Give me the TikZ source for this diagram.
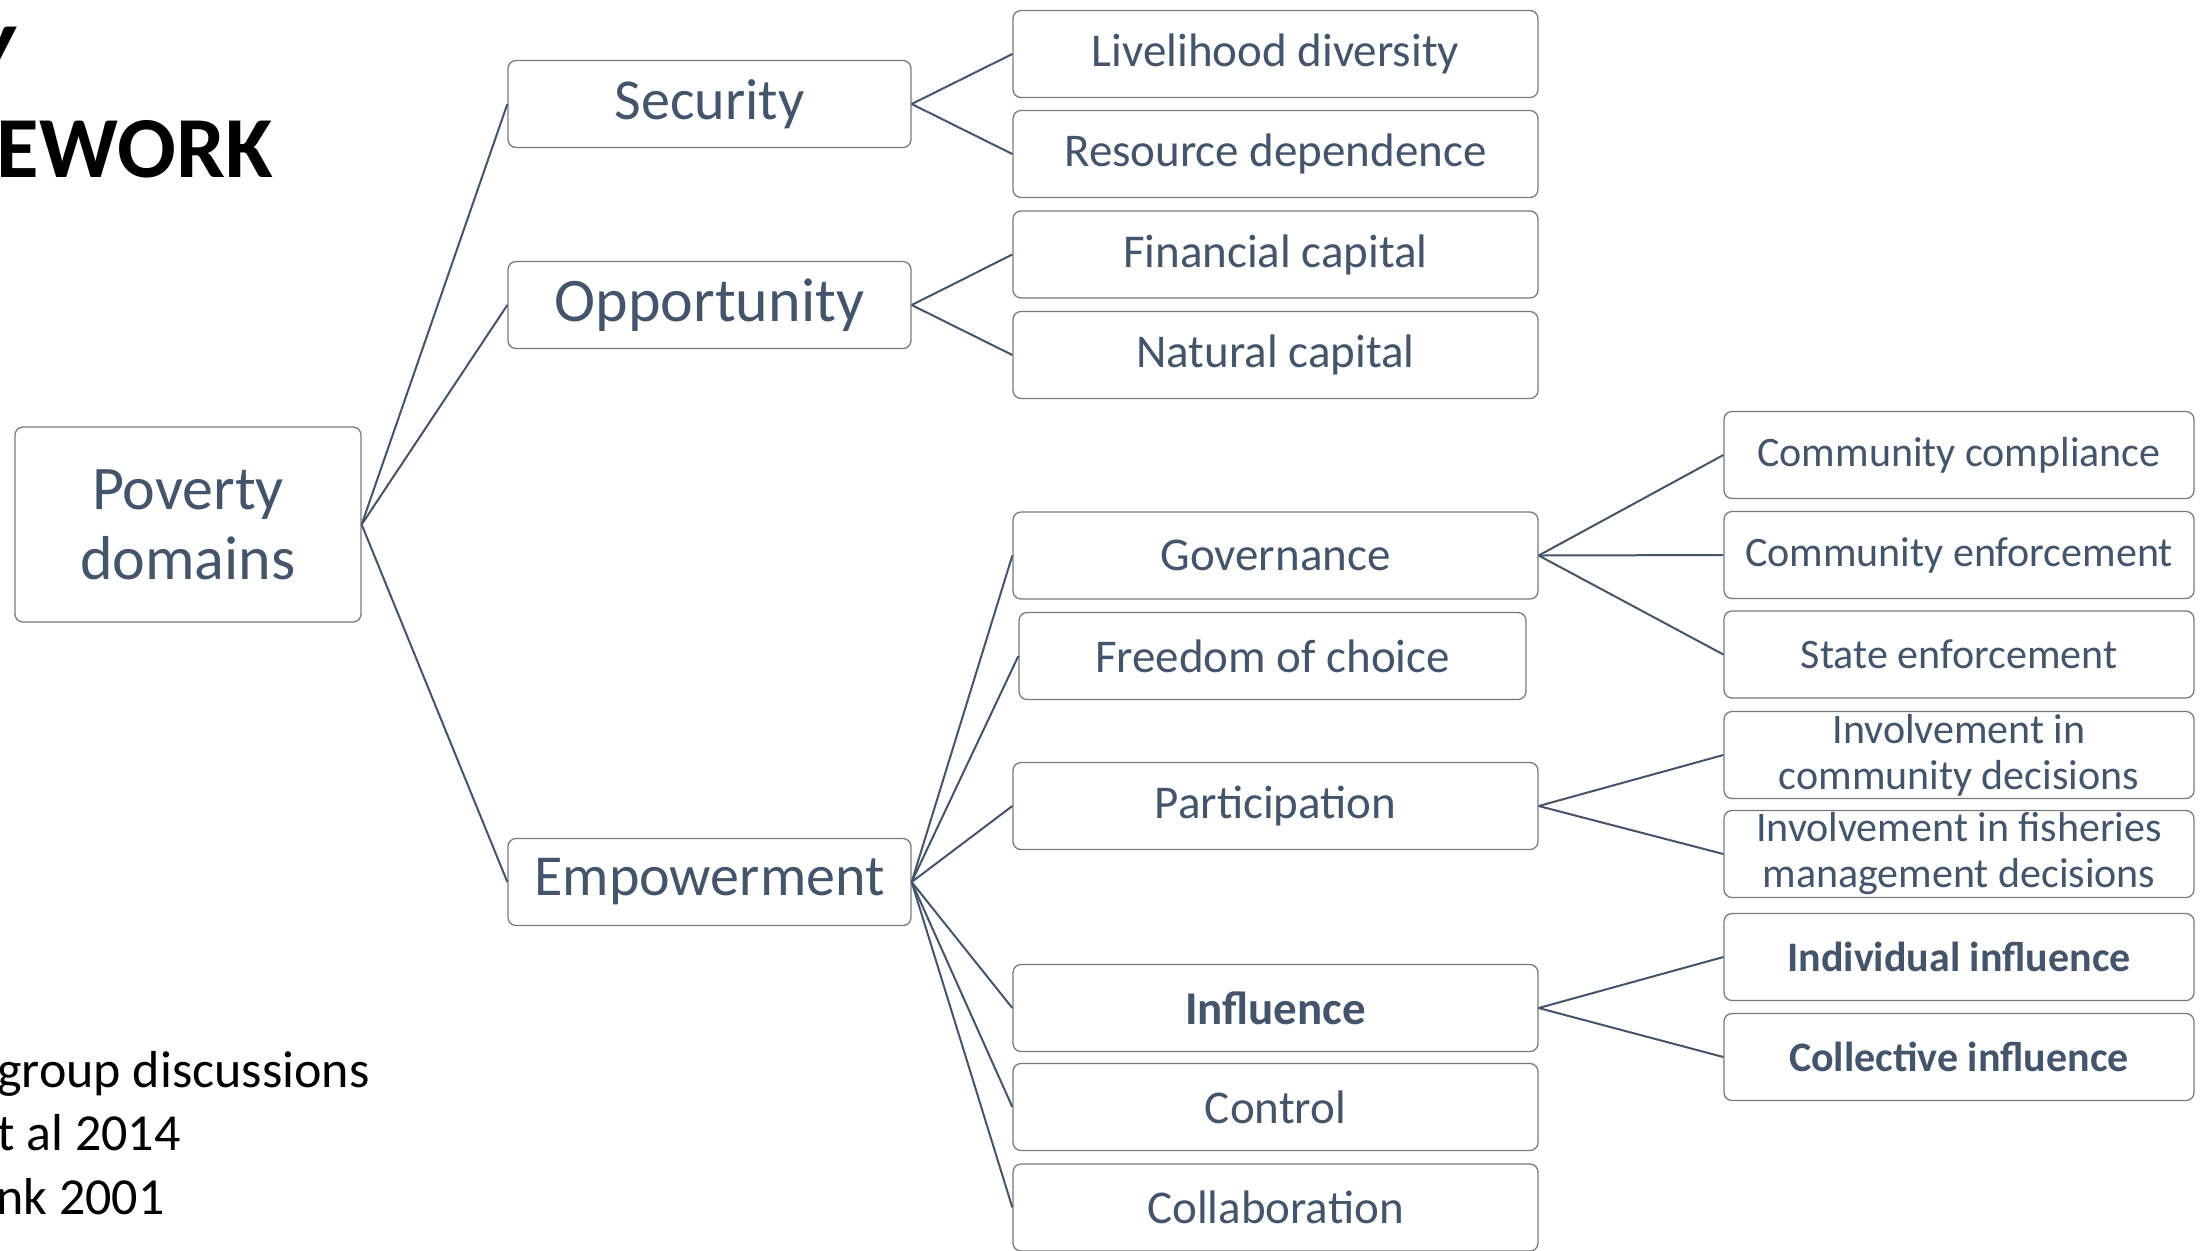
\documentclass[tikz,border=0pt]{standalone}
\usepackage{fontspec}
\setmainfont{Carlito}
\definecolor{slate}{HTML}{44546A}
\definecolor{boxedge}{HTML}{7A7A7A}
\newcommand{\fs}[2]{\fontsize{#1}{#2}\selectfont}
\begin{document}
\begin{tikzpicture}[x=0.5pt,y=-0.5pt,
  basebox/.style={draw=boxedge, line width=0.65pt, fill=white, rounded corners=4pt,
    inner sep=0pt, align=center, text=slate},
  rootbox/.style={basebox, minimum width=173pt, minimum height=97.5pt, font=\fs{31pt}{35pt}},
  dombox/.style={basebox, minimum width=201.5pt, minimum height=43.5pt},
  indbox/.style={basebox, minimum width=262.5pt, minimum height=43.5pt, font=\fs{23.5pt}{27pt}},
  detbox/.style={basebox, minimum width=235pt, minimum height=43.5pt, font=\fs{21pt}{23pt}},
  connline/.style={draw=slate, line width=1pt},
  notetext/.style={inner sep=0pt, anchor=base west, font=\fs{26pt}{31pt}, text=black}
]
\useasboundingbox (0,0) rectangle (2202,1250);

% slide heading and sources, running off the left edge
\node[inner sep=0pt, anchor=base east, font=\fs{43.5pt}{47pt}\bfseries] (headA) at (17,83) {Y};
\node[inner sep=0pt, anchor=base east, font=\fs{43.5pt}{47pt}\bfseries] (headB) at (273,177) {EWORK};
\node[notetext] (srcA) at (-3,1087) {group discussions};
\node[notetext] (srcB) at (-3,1150) {t al 2014};
\node[notetext] (srcC) at (-4,1214) {nk 2001};

% root
\node[rootbox] (pov) at (188,524.5) {Poverty\\domains};

% domains
\node[dombox, font=\fs{29pt}{33pt}] (sec) at (709.5,104) {Security};
\node[dombox, font=\fs{31pt}{35pt}] (opp) at (709.5,305) {Opportunity};
\node[dombox, font=\fs{29pt}{33pt}] (emp) at (709.5,882) {Empowerment};

% indicators
\node[indbox] (liv) at (1275.5,54) {Livelihood diversity};
\node[indbox] (res) at (1275.5,154) {Resource dependence};
\node[indbox] (fin) at (1275.5,254.5) {Financial capital};
\node[indbox] (nat) at (1275.5,355) {Natural capital};
\node[indbox] (gov) at (1275.5,555.5) {Governance};
\node[indbox, minimum width=253.5pt] (fre) at (1272.5,656) {Freedom of choice};
\node[indbox] (par) at (1275.5,806) {Participation};
\node[indbox, font=\fs{23.5pt}{27pt}\bfseries] (inf) at (1275.5,1008) {Influence};
\node[indbox] (con) at (1275.5,1107) {Control};
\node[indbox] (col) at (1275.5,1207.5) {Collaboration};

% sub-indicators
\node[detbox] (cco) at (1959,455) {Community compliance};
\node[detbox] (cen) at (1959,555) {Community enforcement};
\node[detbox] (sen) at (1959,654.5) {State enforcement};
\node[detbox] (icd) at (1959,755) {Involvement in\\community decisions};
\node[detbox] (ifm) at (1959,854) {Involvement in fisheries\\management decisions};
\node[detbox, font=\fs{21pt}{23pt}\bfseries] (ind) at (1959,957) {Individual influence};
\node[detbox, font=\fs{21pt}{23pt}\bfseries] (cin) at (1959,1057) {Collective influence};

% connectors
\foreach \a/\b in {pov/sec, pov/opp, pov/emp,
                   sec/liv, sec/res, opp/fin, opp/nat,
                   emp/gov, emp/fre, emp/par, emp/inf, emp/con, emp/col,
                   gov/cco, gov/cen, gov/sen, par/icd, par/ifm, inf/ind, inf/cin}
  \draw[connline] (\a.east) -- (\b.west);
\end{tikzpicture}
\end{document}
